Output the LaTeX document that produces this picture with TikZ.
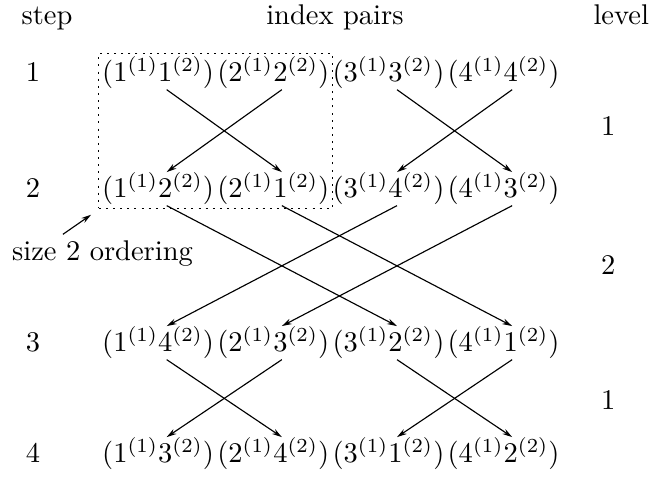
\documentclass[tikz,border=0pt]{standalone}
\usetikzlibrary{arrows.meta,fit}

\tikzset{
  pair/.style={anchor=base, inner sep=0pt},
  plain/.style={anchor=base, inner sep=0pt},
  >={Stealth[length=3.5pt,width=2pt]}
}

\begin{document}
\begin{tikzpicture}
            \useasboundingbox (0,0) rectangle (8.015,-5.93);

            % headings
            \node[plain] (hstep) at (0.58,-0.308) {step};
            \node[plain] (hpairs) at (4.13,-0.308) {index pairs};
            \node[plain] (hlevel) at (7.66,-0.308) {level};

            % step numbers
            \node[plain] (s1) at (0.407,-1.011) {1};
            \node[plain] (s2) at (0.407,-2.441) {2};
            \node[plain] (s3) at (0.407,-4.340) {3};
            \node[plain] (s4) at (0.407,-5.709) {4};

            % level numbers
            \node[plain] (l1) at (7.50,-1.665) {1};
            \node[plain] (l2) at (7.50,-3.390) {2};
            \node[plain] (l3) at (7.50,-5.055) {1};

            % step 1
            \node[pair] (p11) at (1.95,-1.011) {$(1^{(1)}1^{(2)})$};
            \node[pair] (p12) at (3.37,-1.011) {$(2^{(1)}2^{(2)})$};
            \node[pair] (p13) at (4.79,-1.011) {$(3^{(1)}3^{(2)})$};
            \node[pair] (p14) at (6.21,-1.011) {$(4^{(1)}4^{(2)})$};

            % step 2
            \node[pair] (p21) at (1.95,-2.441) {$(1^{(1)}2^{(2)})$};
            \node[pair] (p22) at (3.37,-2.441) {$(2^{(1)}1^{(2)})$};
            \node[pair] (p23) at (4.79,-2.441) {$(3^{(1)}4^{(2)})$};
            \node[pair] (p24) at (6.21,-2.441) {$(4^{(1)}3^{(2)})$};

            % step 3
            \node[pair] (p31) at (1.95,-4.340) {$(1^{(1)}4^{(2)})$};
            \node[pair] (p32) at (3.37,-4.340) {$(2^{(1)}3^{(2)})$};
            \node[pair] (p33) at (4.79,-4.340) {$(3^{(1)}2^{(2)})$};
            \node[pair] (p34) at (6.21,-4.340) {$(4^{(1)}1^{(2)})$};

            % step 4
            \node[pair] (p41) at (1.95,-5.709) {$(1^{(1)}3^{(2)})$};
            \node[pair] (p42) at (3.37,-5.709) {$(2^{(1)}4^{(2)})$};
            \node[pair] (p43) at (4.79,-5.709) {$(3^{(1)}1^{(2)})$};
            \node[pair] (p44) at (6.21,-5.709) {$(4^{(1)}2^{(2)})$};

            % level 1 swaps
            \draw[->] ([xshift=3pt]p11.south) -- ([xshift=3pt]p22.north);
            \draw[->] ([xshift=3pt]p12.south) -- ([xshift=3pt]p21.north);
            \draw[->] ([xshift=3pt]p13.south) -- ([xshift=3pt]p24.north);
            \draw[->] ([xshift=3pt]p14.south) -- ([xshift=3pt]p23.north);

            % level 2 swaps
            \draw[->] ([xshift=3pt]p21.south) -- ([xshift=3pt]p33.north);
            \draw[->] ([xshift=3pt]p22.south) -- ([xshift=3pt]p34.north);
            \draw[->] ([xshift=3pt]p23.south) -- ([xshift=3pt]p31.north);
            \draw[->] ([xshift=3pt]p24.south) -- ([xshift=3pt]p32.north);

            % level 1 swaps again
            \draw[->] ([xshift=3pt]p31.south) -- ([xshift=3pt]p42.north);
            \draw[->] ([xshift=3pt]p32.south) -- ([xshift=3pt]p41.north);
            \draw[->] ([xshift=3pt]p33.south) -- ([xshift=3pt]p44.north);
            \draw[->] ([xshift=3pt]p34.south) -- ([xshift=3pt]p43.north);

            % size 2 ordering
            \node[draw, dash pattern=on 0.7pt off 1.8pt, inner sep=1pt, fit=(p11)(p22)] (box) {};
            \node[plain] (order) at (1.264,-3.218) {size 2 ordering};
            \draw[->] ([xshift=-13.9pt,yshift=2.2pt]order.north) -- ([shift={(-2.5pt,-2pt)}]box.south west);
        \end{tikzpicture}
\end{document}
